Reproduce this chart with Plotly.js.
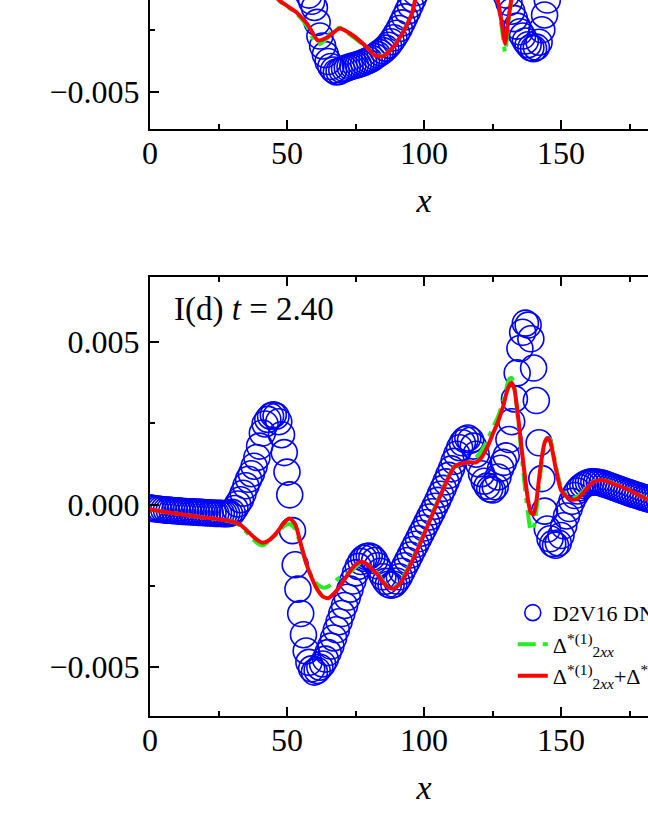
<!DOCTYPE html>
<html>
<head>
<meta charset="utf-8">
<script src="https://cdn.plot.ly/plotly-3.0.1.min.js"></script>
<style>
  html, body { margin: 0; padding: 0; width: 648px; height: 838px; overflow: hidden; background: #fff; }
  #chart { position: absolute; left: 0; top: -330px; width: 720px; height: 1168px; }
</style>
</head>
<body>
<div id="chart"></div>
<script>
// all y values below in units of 1e-3

// ---- upper panel (only its lower part is in view) ----
const dnsTopA = [ // x = 58 .. 97
    -1.10, -1.35, -1.60, -2.20, -2.75, -3.15, -3.50, -3.78, -3.98, -4.12,
    -4.20, -4.18, -4.12, -4.07, -4.03, -3.99, -3.96, -3.93, -3.90, -3.86,
    -3.82, -3.77, -3.72, -3.66, -3.58, -3.50, -3.42, -3.34, -3.24, -3.12,
    -2.98, -2.82, -2.64, -2.45, -2.22, -1.98, -1.75, -1.50, -1.25, -1.00
];
const dnsTopB = [ // x = 130 .. 146
    -1.10, -1.40, -1.75, -2.05, -2.35, -2.58, -2.75, -2.95, -3.10, -3.22,
    -3.26, -3.20, -3.00, -2.50, -1.90, -1.30, -0.70
];
const redTopX = [44, 47.4, 53.6, 57.3, 59.5, 61.3, 64.6, 69.3, 74.1, 79.2, 82.1, 85, 88.7, 92.3, 95.6, 96.7, 98,
    null, 126, 127, 128.5, 129.6, 130.7, 131.8, 132.5];
const redTopY = [-0.90, -1.33, -1.81, -2.25, -2.65, -2.93, -2.81, -2.45, -2.73, -3.21, -3.53, -3.57, -3.21, -2.61, -1.85, -1.33, -0.80,
    null, -0.70, -1.33, -2.30, -3.05, -2.13, -1.33, -0.80];
const greenTopX = [44, 47.4, 53.6, 57.3, 59.5, 61.3, 64.6, 66, 69.3, 74.1, 79.2, 82.1, 85, 88.7, 92.3, 95.6, 96.7, 98,
    null, 126, 127, 128.5, 129.6, 130.7, 131.8, 132.5];
const greenTopY = [-0.90, -1.35, -1.85, -2.35, -2.85, -3.10, -2.85, -2.60, -2.42, -2.78, -3.22, -3.50, -3.55, -3.20, -2.60, -1.85, -1.33, -0.80,
    null, -0.70, -1.40, -2.50, -3.41, -2.30, -1.40, -0.80];

// ---- lower panel I(d), t = 2.40 ----
const dnsBottom = [ // x = 0 .. 200, step 1
    -0.10, -0.12, -0.13, -0.14, -0.15, -0.16, -0.17, -0.17, -0.18, -0.19,
    -0.19, -0.20, -0.21, -0.21, -0.22, -0.22, -0.23, -0.23, -0.24, -0.24,
    -0.25, -0.25, -0.26, -0.26, -0.27, -0.27, -0.27, -0.28, -0.28, -0.27,
    -0.24, -0.12, 0.02, 0.15, 0.35, 0.58, 0.78, 0.95, 1.18, 1.45,
    1.80, 2.20, 2.48, 2.62, 2.72, 2.76, 2.72, 2.55, 2.15, 1.60,
    1.00, 0.30, -0.80, -1.85, -2.60, -3.35, -4.00, -4.50, -4.85, -5.05,
    -5.15, -5.10, -5.00, -4.90, -4.75, -4.55, -4.35, -4.10, -3.85, -3.60,
    -3.35, -3.10, -2.85, -2.60, -2.35, -2.10, -1.90, -1.75, -1.65, -1.60,
    -1.58, -1.62, -1.72, -1.88, -2.05, -2.22, -2.36, -2.45, -2.48, -2.45,
    -2.35, -2.22, -2.05, -1.88, -1.72, -1.55, -1.38, -1.22, -1.05, -0.88,
    -0.72, -0.55, -0.38, -0.22, -0.05, 0.13, 0.32, 0.50, 0.70, 0.90,
    1.10, 1.33, 1.55, 1.75, 1.90, 2.00, 2.05, 1.98, 1.80, 1.55,
    1.25, 0.95, 0.72, 0.57, 0.48, 0.45, 0.55, 0.85, 1.12, 1.30,
    1.50, 2.00, 2.55, 3.25, 4.05, 4.80, 5.30, 5.58, 5.52, 5.10,
    4.20, 3.20, 1.90, 0.80, -0.20, -0.75, -1.05, -1.20, -1.25, -1.18,
    -0.95, -0.65, -0.35, -0.12, 0.10, 0.28, 0.42, 0.52, 0.59, 0.64,
    0.68, 0.70, 0.70, 0.69, 0.68, 0.66, 0.63, 0.60, 0.57, 0.54,
    0.51, 0.48, 0.45, 0.42, 0.39, 0.36, 0.33, 0.30, 0.28, 0.25,
    0.22, 0.20, 0.17, 0.15, 0.13, 0.11, 0.09, 0.07, 0.05, 0.04,
    0.02, 0.01, 0.00, -0.01, -0.02, -0.03, -0.04, -0.05, -0.06, -0.07,
    -0.08
];
const redX = [0, 5, 10, 15, 20, 25, 30, 33, 36, 39, 41, 43, 45, 47, 49, 51, 53, 55, 57, 59,
    61, 63, 65, 67, 69, 71, 73, 75, 77, 79, 81, 83, 85, 87, 89, 91, 93, 95, 97, 99,
    101, 103, 105, 107, 109, 111, 113, 115, 117, 119, 121, 123, 125, 127, 129, 130, 131, 132, 133, 134,
    135, 136, 137, 138, 139, 140, 141, 142, 143, 144, 145, 146, 147, 148, 149, 150, 152, 154, 156, 158,
    160, 162, 164, 166, 168, 172, 176, 180, 184, 190, 200];
const redY = [-0.15, -0.22, -0.28, -0.34, -0.40, -0.45, -0.52, -0.62, -0.85, -1.08, -1.17, -1.12, -0.98, -0.78, -0.55, -0.43, -0.60, -1.20, -1.80, -2.25,
    -2.60, -2.82, -2.88, -2.75, -2.55, -2.30, -2.05, -1.85, -1.76, -1.82, -1.98, -2.15, -2.38, -2.55, -2.58, -2.45, -2.20, -1.85, -1.50, -1.12,
    -0.72, -0.32, 0.08, 0.48, 0.85, 1.15, 1.25, 1.28, 1.30, 1.30, 1.45, 1.75, 2.15, 2.55, 3.05, 3.40, 3.65, 3.75, 3.55, 2.95,
    2.20, 1.45, 0.75, 0.12, -0.25, -0.30, 0.10, 0.80, 1.45, 1.90, 2.05, 1.95, 1.60, 1.15, 0.75, 0.45, 0.25, 0.15, 0.18, 0.35,
    0.55, 0.70, 0.75, 0.74, 0.68, 0.55, 0.40, 0.22, 0.08, -0.05, -0.15];
const greenY = [-0.15, -0.22, -0.28, -0.34, -0.40, -0.45, -0.52, -0.65, -0.92, -1.18, -1.26, -1.15, -1.00, -0.85, -0.65, -0.60, -0.75, -1.25, -1.80, -2.20,
    -2.45, -2.55, -2.52, -2.40, -2.25, -2.15, -2.08, -1.92, -1.78, -1.82, -1.95, -2.12, -2.35, -2.52, -2.55, -2.42, -2.15, -1.80, -1.45, -1.08,
    -0.68, -0.28, 0.12, 0.52, 0.88, 1.15, 1.22, 1.25, 1.35, 1.45, 1.65, 1.95, 2.35, 2.70, 3.20, 3.55, 3.85, 3.90, 3.60, 2.90,
    2.05, 1.20, 0.40, -0.30, -0.80, -0.70, -0.20, 0.60, 1.30, 1.85, 2.05, 2.00, 1.70, 1.25, 0.85, 0.55, 0.30, 0.20, 0.25, 0.40,
    0.58, 0.72, 0.77, 0.75, 0.69, 0.56, 0.41, 0.23, 0.09, -0.04, -0.14];

const yTickVals = [-0.005, 0, 0.005, 0.010];
const yTickText = ['\u22120.005', '0.000', '0.005', '0.010'];
const xTickVals = [0, 50, 100, 150, 200];

const names = ['D2V16 DNS', '\u0394<sup>*(1)</sup><sub>2<i>xx</i></sub>',
    '\u0394<sup>*(1)</sup><sub>2<i>xx</i></sub>+\u0394<sup>*(2)</sup><sub>2<i>xx</i></sub>'];

const scale = v => (v === null ? null : v * 1e-3); // back to real units

const blue = '#0000ff', green = '#22ee22', red = '#ff0000';
const serif = 'Liberation Serif, Times New Roman, serif';

function circles(y, x0, xa, ya, show) {
    return {
        y: y.map(scale), x0: x0, dx: 1, xaxis: xa, yaxis: ya,
        type: 'scatter', mode: 'markers', name: names[0], showlegend: show,
        marker: {symbol: 'circle-open', size: 26, color: blue, line: {color: blue, width: 1.6}}
    };
}

function curve(x, y, xa, ya, color, dash, name, show) {
    return {
        x: x, y: y.map(scale), xaxis: xa, yaxis: ya,
        type: 'scatter', mode: 'lines', name: name, showlegend: show,
        line: {color: color, width: 4, dash: dash, shape: 'spline', smoothing: 0.6}
    };
}

const greenDash = '18px,7px,5px,7px';

const traces = [
    circles(dnsTopA, 58, 'x', 'y', false),
    circles(dnsTopB, 130, 'x', 'y', false),
    curve(greenTopX, greenTopY, 'x', 'y', green, greenDash, names[1], false),
    curve(redTopX, redTopY, 'x', 'y', red, 'solid', names[2], false),
    circles(dnsBottom, 0, 'x2', 'y2', true),
    curve(redX, greenY, 'x2', 'y2', green, greenDash, names[1], true),
    curve(redX, redY, 'x2', 'y2', red, 'solid', names[2], true)
];

function xAxis(anchor) {
    return {
        anchor: anchor, domain: [0, 1], range: [0, 200],
        tickvals: xTickVals, ticks: 'inside', ticklen: 9, tickwidth: 2, tickcolor: '#000',
        minor: {ticks: 'inside', ticklen: 5, tickwidth: 2, tickcolor: '#000', dtick: 25, tick0: 0},
        showline: true, linewidth: 2, linecolor: '#000', mirror: 'ticks',
        showgrid: false, zeroline: false,
        tickfont: {family: serif, size: 32, color: '#000'},
        ticklabelstandoff: -5,
        title: {text: '<i>x</i>', font: {family: serif, size: 34, color: '#000'}, standoff: 18}
    };
}

function yAxis(anchor, domain, range) {
    return {
        anchor: anchor, domain: domain, range: range,
        tickvals: yTickVals, ticktext: yTickText, ticks: 'inside', ticklen: 9, tickwidth: 2, tickcolor: '#000',
        minor: {ticks: 'inside', ticklen: 5, tickwidth: 2, tickcolor: '#000', dtick: 0.0025, tick0: 0},
        showline: true, linewidth: 2, linecolor: '#000', mirror: 'ticks',
        showgrid: false, zeroline: false,
        tickfont: {family: serif, size: 32, color: '#000'},
        ticklabelstandoff: 2
    };
}

const layout = {
    width: 720, height: 1168,
    margin: {l: 150, r: 22, t: 20, b: 122},
    paper_bgcolor: '#fff', plot_bgcolor: '#fff',
    font: {family: serif, color: '#000'},
    xaxis: xAxis('y'),
    yaxis: yAxis('x', [0.5721, 1], [-0.0065, 0.0112]),
    xaxis2: xAxis('y2'),
    yaxis2: yAxis('x2', [0, 0.4279], [-0.0065, 0.007]),
    showlegend: true,
    legend: {
        x: 0.662, y: 0.121, xanchor: 'left', yanchor: 'top',
        bgcolor: 'rgba(0,0,0,0)', borderwidth: 0,
        font: {family: serif, size: 22, color: '#000'},
        tracegroupgap: 0
    },
    annotations: [{
        xref: 'x2 domain', yref: 'y2 domain', x: 0.04, y: 0.925,
        xanchor: 'left', yanchor: 'middle', showarrow: false,
        text: 'I(d) <i>t</i> = 2.40', font: {family: serif, size: 33, color: '#000'}
    }]
};

Plotly.newPlot('chart', traces, layout, {staticPlot: true, displayModeBar: false});
</script>
</body>
</html>
